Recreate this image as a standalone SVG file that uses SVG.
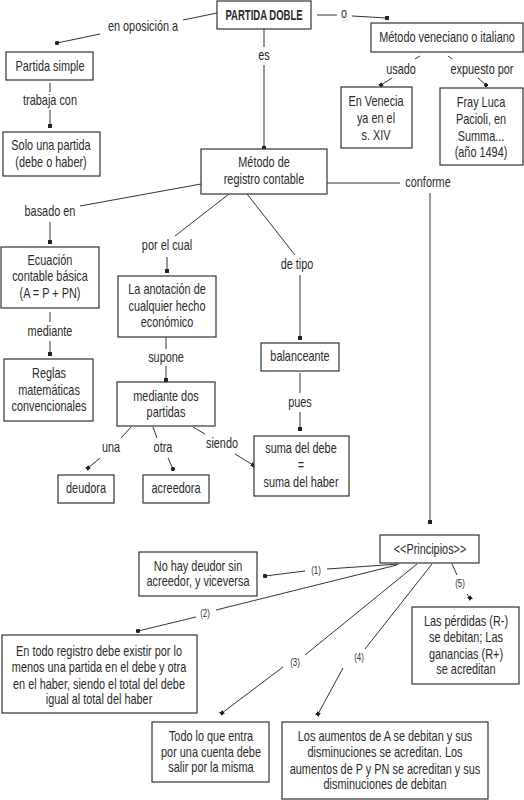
<svg xmlns="http://www.w3.org/2000/svg" width="524" height="800" viewBox="0 0 524 800">
<defs>
<style>
.b{fill:#fff;stroke:#333;stroke-width:1.2}
.t{font-family:"Liberation Sans",Arial,sans-serif;font-size:13.8px;fill:#2b2b2b;text-anchor:middle;transform-box:fill-box;transform-origin:center;transform:scaleX(0.79)}
.s{font-size:10px}
.bold{font-weight:bold;transform:scaleX(0.69)}
.c{stroke:#333;stroke-width:1;fill:none}
.m{marker-end:url(#dot)}
</style>
<marker id="dot" markerUnits="userSpaceOnUse" markerWidth="4" markerHeight="4" refX="2" refY="2" orient="auto"><rect x="0" y="0" width="4" height="4" fill="#222"/></marker>
</defs>
<rect width="524" height="800" fill="#fff"/>
<g id="connectors">
<line class="c" x1="217" y1="13" x2="183" y2="20"/><line class="c m" x1="100" y1="34" x2="57" y2="43"/>
<line class="c" x1="50" y1="83" x2="50" y2="92"/><line class="c m" x1="50" y1="110" x2="50" y2="126"/>
<line class="c" x1="317" y1="15" x2="337" y2="15"/><line class="c m" x1="352" y1="16" x2="387" y2="18"/>
<line class="c" x1="420" y1="56" x2="415" y2="59"/><line class="c m" x1="392" y1="78" x2="381" y2="85"/>
<line class="c" x1="448" y1="56" x2="452" y2="59"/><line class="c m" x1="478" y1="78" x2="486" y2="85"/>
<line class="c" x1="264" y1="29" x2="264" y2="47"/><line class="c m" x1="264" y1="65" x2="264" y2="148"/>
<line class="c" x1="327" y1="183" x2="400" y2="183"/><line class="c m" x1="430" y1="193" x2="430" y2="522"/>
<line class="c" x1="201" y1="184" x2="80" y2="206"/><line class="c m" x1="50" y1="222" x2="50" y2="242"/>
<line class="c" x1="50" y1="312" x2="50" y2="322"/><line class="c m" x1="50" y1="341" x2="50" y2="354"/>
<line class="c" x1="229" y1="194" x2="175" y2="236"/><line class="c m" x1="167" y1="257" x2="167" y2="271"/>
<line class="c" x1="166" y1="337" x2="166" y2="349"/><line class="c m" x1="166" y1="366" x2="166" y2="380"/>
<line class="c" x1="131" y1="427" x2="121" y2="438"/><line class="c m" x1="100" y1="458" x2="88" y2="468"/>
<line class="c" x1="153" y1="427" x2="157" y2="438"/><line class="c m" x1="168" y1="458" x2="173" y2="469"/>
<line class="c" x1="193" y1="427" x2="205" y2="434"/><line class="c m" x1="235" y1="454" x2="253" y2="465"/>
<line class="c" x1="247" y1="194" x2="295" y2="255"/><line class="c m" x1="300" y1="275" x2="300" y2="338"/>
<line class="c" x1="300" y1="373" x2="300" y2="393"/><line class="c m" x1="300" y1="412" x2="300" y2="429"/>
<line class="c" x1="399" y1="564" x2="327" y2="569"/><line class="c m" x1="305" y1="571" x2="265" y2="576"/>
<line class="c" x1="397" y1="565" x2="216" y2="610"/><line class="c m" x1="196" y1="617" x2="138" y2="631"/>
<line class="c" x1="417" y1="564" x2="305" y2="655"/><line class="c m" x1="283" y1="667" x2="222" y2="713"/>
<line class="c" x1="432" y1="564" x2="365" y2="649"/><line class="c m" x1="343" y1="668" x2="318" y2="714"/>
<line class="c" x1="452" y1="564" x2="457" y2="575"/><line class="c m" x1="467" y1="594" x2="470" y2="598"/>
</g>
<g id="labels">
<text class="t" x="143" y="31">en oposición a</text>
<text class="t" x="50" y="105">trabaja con</text>
<text class="t" x="344" y="18">o</text>
<text class="t" x="401" y="74">usado</text>
<text class="t" x="482" y="74">expuesto por</text>
<text class="t" x="264" y="60">es</text>
<text class="t" x="428" y="187">conforme</text>
<text class="t" x="50" y="216">basado en</text>
<text class="t" x="50" y="336">mediante</text>
<text class="t" x="167" y="250">por el cual</text>
<text class="t" x="166" y="362">supone</text>
<text class="t" x="111" y="452">una</text>
<text class="t" x="163" y="452">otra</text>
<text class="t" x="222" y="448">siendo</text>
<text class="t" x="297" y="269">de tipo</text>
<text class="t" x="300" y="407">pues</text>
<text class="t s" x="316" y="574">(1)</text>
<text class="t s" x="205" y="617">(2)</text>
<text class="t s" x="295" y="666">(3)</text>
<text class="t s" x="359" y="661">(4)</text>
<text class="t s" x="460" y="587">(5)</text>
</g>
<g id="partida-doble"><rect class="b" x="217" y="1" width="94" height="28"/><text class="t bold" x="264" y="20">PARTIDA DOBLE</text></g>
<g id="partida-simple"><rect class="b" x="6" y="52" width="87" height="28"/><text class="t" x="50" y="71">Partida simple</text></g>
<g id="solo-una"><rect class="b" x="3" y="132" width="97" height="44"/><text class="t" x="51" y="150">Solo una partida</text><text class="t" x="51" y="167">(debe o haber)</text></g>
<g id="metodo-veneciano"><rect class="b" x="371" y="23" width="152" height="29"/><text class="t" x="447" y="42">Método veneciano o italiano</text></g>
<g id="en-venecia"><rect class="b" x="341" y="87" width="71" height="61"/><text class="t" x="376" y="106">En Venecia</text><text class="t" x="376" y="123">ya en el</text><text class="t" x="376" y="140">s. XIV</text></g>
<g id="fray-luca"><rect class="b" x="440" y="88" width="83" height="77"/><text class="t" x="481" y="107">Fray Luca</text><text class="t" x="481" y="124">Pacioli, en</text><text class="t" x="481" y="141">Summa...</text><text class="t" x="481" y="157">(año 1494)</text></g>
<g id="metodo-registro"><rect class="b" x="201" y="149" width="126" height="45"/><text class="t" x="264" y="167">Método de</text><text class="t" x="264" y="184">registro contable</text></g>
<g id="ecuacion"><rect class="b" x="1" y="247" width="98" height="61"/><text class="t" x="50" y="265">Ecuación</text><text class="t" x="50" y="281">contable básica</text><text class="t" x="50" y="298">(A = P + PN)</text></g>
<g id="reglas"><rect class="b" x="4" y="359" width="89" height="62"/><text class="t" x="49" y="378">Reglas</text><text class="t" x="49" y="395">matemáticas</text><text class="t" x="49" y="411">convencionales</text></g>
<g id="anotacion"><rect class="b" x="118" y="276" width="98" height="61"/><text class="t" x="167" y="294">La anotación de</text><text class="t" x="167" y="311">cualquier hecho</text><text class="t" x="167" y="327">económico</text></g>
<g id="mediante-dos"><rect class="b" x="117" y="382" width="98" height="44"/><text class="t" x="166" y="401">mediante dos</text><text class="t" x="166" y="417">partidas</text></g>
<g id="deudora"><rect class="b" x="58" y="475" width="56" height="28"/><text class="t" x="86" y="493">deudora</text></g>
<g id="acreedora"><rect class="b" x="143" y="475" width="66" height="28"/><text class="t" x="176" y="493">acreedora</text></g>
<g id="balanceante"><rect class="b" x="261" y="343" width="78" height="28"/><text class="t" x="300" y="361">balanceante</text></g>
<g id="suma"><rect class="b" x="254" y="436" width="95" height="60"/><text class="t" x="301" y="453">suma del debe</text><text class="t" x="301" y="470">=</text><text class="t" x="301" y="487">suma del haber</text></g>
<g id="principios"><rect class="b" x="380" y="535" width="99" height="28"/><text class="t" x="430" y="554">&lt;&lt;Principios&gt;&gt;</text></g>
<g id="no-hay"><rect class="b" x="139" y="552" width="118" height="44"/><text class="t" x="198" y="571">No hay deudor sin</text><text class="t" x="198" y="586">acreedor, y viceversa</text></g>
<g id="perdidas"><rect class="b" x="412" y="607" width="107" height="77"/><text class="t" x="466" y="626">Las pérdidas (R-)</text><text class="t" x="466" y="642">se debitan; Las</text><text class="t" x="466" y="659">ganancias (R+)</text><text class="t" x="466" y="674">se acreditan</text></g>
<g id="en-todo"><rect class="b" x="2" y="635" width="195" height="78"/><text class="t" x="99" y="656">En todo registro debe existir por lo</text><text class="t" x="99" y="672">menos una partida en el debe y otra</text><text class="t" x="99" y="689">en el haber, siendo el total del debe</text><text class="t" x="99" y="704">igual al total del haber</text></g>
<g id="todo-lo"><rect class="b" x="152" y="722" width="117" height="60"/><text class="t" x="211" y="741">Todo lo que entra</text><text class="t" x="211" y="757">por una cuenta debe</text><text class="t" x="211" y="772">salir por la misma</text></g>
<g id="aumentos"><rect class="b" x="282" y="722" width="206" height="77"/><text class="t" x="385" y="741">Los aumentos de A se debitan y sus</text><text class="t" x="385" y="757">disminuciones se acreditan. Los</text><text class="t" x="385" y="774">aumentos de P y PN se acreditan y sus</text><text class="t" x="385" y="789">disminuciones de debitan</text></g>
</svg>
